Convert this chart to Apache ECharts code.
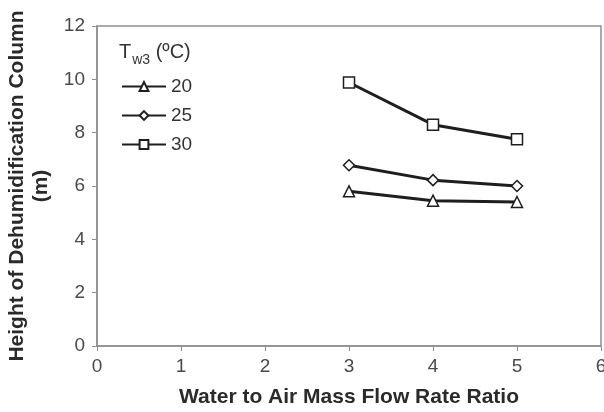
<!DOCTYPE html>
<html>
<head>
<meta charset="utf-8">
<script src="https://cdn.jsdelivr.net/npm/echarts@6/dist/echarts.min.js"></script>
<style>
  html, body { margin: 0; padding: 0; background: #fff; }
  #chart { width: 604px; height: 412px; }
</style>
</head>
<body>
<div id="chart"></div>
<script>
// flow rate ratio on x axis
const ratios = [3, 4, 5];
const seriesNames = ['20', '25', '30'];
const height20 = [5.8, 5.45, 5.4];
const height25 = [6.78, 6.22, 6.0];
const height30 = [9.88, 8.3, 7.75];
const markers = ['triangle', 'diamond', 'rect'];

const chart = echarts.init(document.getElementById('chart'));

const lineColor = '#1e1e1e';
const axisColor = '#8f8f8f';
const labelColor = '#4a4a4a';
const font = 'Liberation Sans, Arial, sans-serif';

const toPairs = vals => ratios.map((r, i) => [r, vals[i]]);
const allHeights = [height20, height25, height30];

const series = seriesNames.map((name, i) => ({
    name: name,
    type: 'line',
    data: toPairs(allHeights[i]),
    symbol: markers[i],
    symbolSize: 11,
    lineStyle: { color: lineColor, width: 3 },
    itemStyle: { color: '#fff', borderColor: lineColor, borderWidth: 1.5 },
    z: 3
}));

const option = {
    backgroundColor: '#fff',
    animation: false,
    title: {
        text: '{t|T}{s|w3}{t| (ºC)}',
        left: 114,
        top: 32,
        textStyle: {
            rich: {
                t: { fontFamily: font, fontSize: 20, fontWeight: 'normal', color: '#333' },
                s: { fontFamily: font, fontSize: 14, fontWeight: 'normal', color: '#333', padding: [16, 0, 0, 1] }
            }
        }
    },
    legend: {
        orient: 'vertical',
        left: 116,
        top: 72,
        itemWidth: 44,
        itemHeight: 11,
        itemGap: 10,
        textStyle: { fontFamily: font, fontSize: 19, color: '#333' },
        data: seriesNames
    },
    grid: { left: 97, right: 3, top: 26, bottom: 66, containLabel: false, outerBoundsMode: 'none' },
    xAxis: {
        type: 'value',
        min: 0,
        max: 6,
        interval: 1,
        name: 'Water to Air Mass Flow Rate Ratio',
        nameLocation: 'middle',
        nameGap: 41,
        nameTextStyle: { fontFamily: font, fontSize: 21, fontWeight: 'bold', color: '#2a2a2a' },
        axisLine: { show: true, lineStyle: { color: axisColor, width: 1.5 } },
        axisTick: { show: true, length: 5, lineStyle: { color: axisColor } },
        axisLabel: { fontFamily: font, fontSize: 19, color: labelColor, margin: 11 },
        splitLine: { show: false }
    },
    yAxis: {
        type: 'value',
        min: 0,
        max: 12,
        interval: 2,
        name: 'Height of Dehumidification Column\n(m)',
        nameLocation: 'middle',
        nameGap: 37,
        nameTextStyle: { fontFamily: font, fontSize: 21, fontWeight: 'bold', color: '#2a2a2a', lineHeight: 24 },
        axisLine: { show: true, lineStyle: { color: axisColor, width: 1.5 } },
        axisTick: { show: true, length: 5, lineStyle: { color: axisColor } },
        axisLabel: { fontFamily: font, fontSize: 19, color: labelColor, margin: 12 },
        splitLine: { show: false }
    },
    graphic: [{
        type: 'rect',
        shape: { x: 97, y: 26, width: 504, height: 320 },
        style: { fill: 'none', stroke: axisColor, lineWidth: 1.5 },
        silent: true,
        z: 0
    }],
    series: series
};

option && chart.setOption(option);
</script>
</body>
</html>
